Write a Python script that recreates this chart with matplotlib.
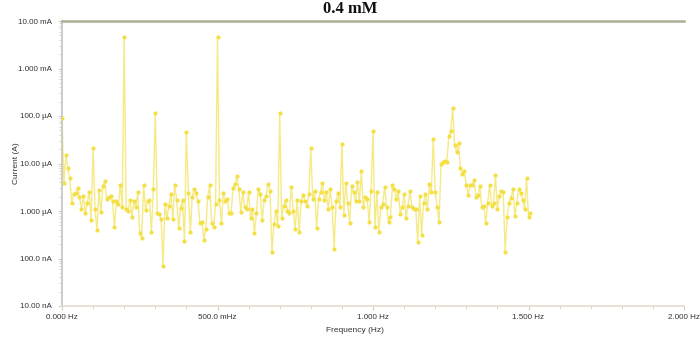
import numpy as np
import matplotlib
matplotlib.use("Agg")
import matplotlib.pyplot as plt
from matplotlib.ticker import FixedLocator, FixedFormatter, LogLocator, NullFormatter

# spectrum, current in uA, bins spaced df apart
df = 0.00625  # Hz
current_uA = [
    90, 3.9, 15, 8, 5, 1.5, 2.3, 2.4, 3.1, 2.0,
    1.1, 2.1, 0.9, 1.5, 2.5, 0.65, 21, 1.1, 0.4, 2.8,
    0.95, 3.3, 4.3, 1.8, 2.0, 2.1, 1.6, 0.46, 1.6, 1.4,
    3.5, 1.2, 4600, 1.1, 1.0, 1.7, 0.75, 1.6, 1.2, 2.5,
    0.35, 0.27, 3.5, 1.05, 1.6, 1.7, 0.36, 2.9, 115, 0.9,
    0.87, 0.68, 0.07, 1.4, 0.72, 1.3, 2.3, 0.68, 3.5, 1.7,
    0.44, 1.15, 1.7, 0.23, 46, 2.4, 0.36, 2.0, 2.9, 2.4,
    1.6, 0.55, 0.6, 0.25, 0.42, 2.0, 3.5, 0.55, 0.46, 1.4,
    4700, 1.7, 0.55, 2.4, 1.6, 1.8, 0.9, 0.9, 3.1, 3.7,
    5.4, 2.9, 0.95, 2.5, 1.2, 1.1, 2.5, 0.72, 1.1, 0.34,
    0.9, 2.9, 2.3, 0.65, 1.7, 2.1, 3.7, 2.7, 0.14, 0.53,
    1.0, 0.48, 115, 0.72, 1.3, 1.7, 1.0, 0.9, 3.2, 1.0,
    0.42, 1.7, 0.36, 1.6, 2.2, 1.6, 1.3, 2.3, 21, 1.8,
    2.6, 0.44, 1.8, 2.5, 3.9, 1.7, 2.5, 1.1, 2.9, 1.2,
    0.16, 1.6, 2.4, 1.2, 26, 0.82, 3.9, 1.5, 0.55, 3.3,
    2.5, 1.6, 4.0, 1.6, 7.0, 1.2, 2.0, 1.8, 0.6, 2.6,
    48, 0.46, 2.5, 0.36, 1.2, 1.4, 3.2, 1.2, 0.58, 0.75,
    3.5, 2.9, 1.8, 2.7, 0.87, 1.2, 2.3, 0.72, 1.3, 2.7,
    1.2, 1.1, 1.1, 0.22, 2.1, 0.31, 1.5, 2.3, 1.1, 3.7,
    2.5, 33, 2.5, 1.2, 0.58, 9.6, 10.8, 11.4, 10.5, 38,
    48, 148, 24.5, 17.5, 27, 8, 5.9, 6.9, 3.5, 2.2,
    3.5, 3.5, 4.5, 2.0, 2.2, 3.3, 1.2, 1.3, 0.55, 1.5,
    3.5, 1.3, 1.5, 5.7, 1.1, 2.1, 2.6, 2.5, 0.14, 0.75,
    1.5, 1.9, 2.9, 0.78, 1.5, 2.9, 2.4, 1.7, 1.1, 4.9,
    0.75, 0.9,
]

y_ticks = [1e-2, 1e-3, 1e-4, 1e-5, 1e-6, 1e-7, 1e-8]
y_labels = ["10.00 mA", "1.000 mA", "100.0 \u00b5A", "10.00 \u00b5A",
            "1.000 \u00b5A", "100.0 nA", "10.00 nA"]
x_ticks = [0.0, 0.5, 1.0, 1.5, 2.0]
x_labels = ["0.000 Hz", "500.0 mHz", "1.000 Hz", "1.500 Hz", "2.000 Hz"]

current = np.array(current_uA) * 1e-6
freq = np.arange(len(current)) * df

plt.rcParams['font.family'] = ['Liberation Sans', 'DejaVu Sans']

fig = plt.figure(figsize=(7, 3.39), dpi=100)
ax = fig.add_axes([62 / 700, 33 / 339, 622 / 700, 285 / 339])

ax.plot(freq, current, color='#f6ea86', lw=1.0, zorder=2)
ax.plot(freq, current, ls='none', marker='o', ms=3.0, mfc='#f4df45',
        mec='#f4df45', mew=0, zorder=3)

ax.set_yscale('log')
ax.set_ylim(1e-8, 1e-2)
ax.set_xlim(0, 2.0)

ax.yaxis.set_major_locator(FixedLocator(y_ticks))
ax.yaxis.set_major_formatter(FixedFormatter(y_labels))
ax.yaxis.set_minor_locator(LogLocator(base=10, subs=np.arange(2, 10)))
ax.yaxis.set_minor_formatter(NullFormatter())
ax.xaxis.set_major_locator(FixedLocator(x_ticks))
ax.xaxis.set_major_formatter(FixedFormatter(x_labels))
ax.xaxis.set_minor_locator(FixedLocator(np.arange(0.1, 2.0, 0.1)))

ax.tick_params(axis='both', which='major', labelsize=5.8, colors='#d0d0c8',
               labelcolor='#333333', length=3, width=0.8)
ax.tick_params(axis='both', which='minor', colors='#d0d0c8', length=2, width=0.6)
ax.tick_params(axis='x', pad=3)
ax.tick_params(axis='y', pad=4)

ax.spines['right'].set_visible(False)
ax.spines['left'].set_color('#c4c4c4')
ax.spines['left'].set_linewidth(1.2)
ax.spines['bottom'].set_color('#e2dccb')
ax.spines['bottom'].set_linewidth(1.2)
ax.spines['top'].set_color('#aeae98')
ax.spines['top'].set_linewidth(1.8)

fig.text(16 / 700, 1 - 163 / 339, 'Current (A)', fontsize=6, rotation=90,
         color='#333333', ha='center', va='center')
fig.text(355 / 700, 1 - 331 / 339, 'Frequency (Hz)', fontsize=6,
         color='#333333', ha='center', va='center')
fig.text(0.5, 1 - 9 / 339, '0.4 mM', fontsize=12, fontweight='bold',
         family='Liberation Serif', ha='center', va='center', color='#111111')

fig.savefig('out.png', dpi=100)
